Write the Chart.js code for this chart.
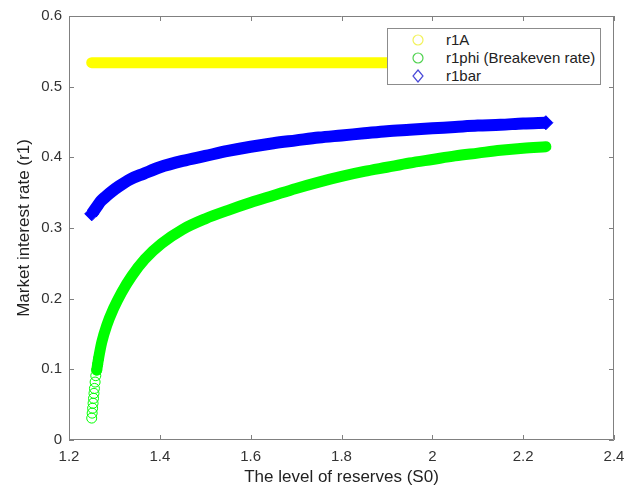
<!DOCTYPE html>
<html>
<head>
<meta charset="utf-8">
<script src="https://cdn.jsdelivr.net/npm/chart.js@4.4.0/dist/chart.umd.min.js"></script>
<style>
    html, body { margin: 0; padding: 0; background: #fff; }
    #wrap { position: relative; width: 638px; height: 495px; }
    #legend {
        position: absolute; left: 387px; top: 28px; width: 214px; height: 57px;
        box-sizing: border-box; border: 1px solid #8c8c8c; background: #fff;
        font: 15px "Liberation Sans", Arial, sans-serif; color: #222;
    }
    .row { position: absolute; left: 0; height: 18px; line-height: 18px; }
    .row svg { position: absolute; left: 23px; top: 2px; }
    .row span { position: absolute; left: 58px; white-space: nowrap; }
</style>
</head>
<body>
<div id="wrap">
    <canvas id="chart" width="638" height="495"></canvas>
    <div id="legend">
        <div class="row" style="top:2px">
            <svg width="14" height="14"><circle cx="7" cy="7" r="5" fill="none" stroke="#f2f25a" stroke-width="1.2"/></svg>
            <span>r1A</span>
        </div>
        <div class="row" style="top:20px">
            <svg width="14" height="14"><circle cx="7" cy="7" r="5" fill="none" stroke="#4fd24f" stroke-width="1.2"/></svg>
            <span>r1phi (Breakeven rate)</span>
        </div>
        <div class="row" style="top:38px">
            <svg width="14" height="14"><polygon points="7,1 12,7 7,13 2,7" fill="none" stroke="#4a4ad8" stroke-width="1.2"/></svg>
            <span>r1bar</span>
        </div>
    </div>
</div>
<script>
// === данные ===
const s0 = [1.25, 1.26, 1.27, 1.28, 1.295, 1.31, 1.335, 1.365, 1.40, 1.45, 1.50, 1.55, 1.60,
    1.65, 1.70, 1.75, 1.80, 1.85, 1.90, 1.95, 2.00, 2.05, 2.10, 2.15, 2.20, 2.25];
const r1A = [0.534, 0.534, 0.534, 0.534, 0.534, 0.534, 0.534, 0.534, 0.534, 0.534, 0.534, 0.534, 0.534,
    0.534, 0.534, 0.534, 0.534, 0.534, 0.534, 0.534, 0.534, 0.534, 0.534, 0.534, 0.534, 0.534];
const r1bar = [0.320, 0.329, 0.338, 0.344, 0.352, 0.359, 0.369, 0.377, 0.386, 0.395, 0.402, 0.409, 0.415,
    0.420, 0.424, 0.428, 0.431, 0.434, 0.437, 0.439, 0.441, 0.443, 0.445, 0.446, 0.448, 0.449];

const s0Phi = [1.250, 1.251, 1.252, 1.253, 1.254, 1.255, 1.256, 1.2575, 1.259, 1.261, 1.263, 1.265,
    1.272, 1.283, 1.298, 1.316, 1.338, 1.367, 1.404, 1.45, 1.50, 1.55, 1.60, 1.65, 1.70, 1.75,
    1.80, 1.85, 1.90, 1.95, 2.00, 2.05, 2.10, 2.15, 2.20, 2.25];
const r1phi = [0.031, 0.038, 0.045, 0.052, 0.059, 0.066, 0.073, 0.082, 0.091, 0.099, 0.107, 0.115,
    0.138, 0.162, 0.186, 0.209, 0.232, 0.256, 0.278, 0.298, 0.313, 0.325, 0.336, 0.346, 0.356, 0.365,
    0.373, 0.380, 0.386, 0.392, 0.397, 0.402, 0.406, 0.410, 0.413, 0.415];

const xTicks = [1.2, 1.4, 1.6, 1.8, 2.0, 2.2, 2.4];
const xTickLabels = ["1.2", "1.4", "1.6", "1.8", "2", "2.2", "2.4"];
const yTicks = [0, 0.1, 0.2, 0.3, 0.4, 0.5, 0.6];
const yTickLabels = ["0", "0.1", "0.2", "0.3", "0.4", "0.5", "0.6"];

const YELLOW = "#ffff00", GREEN = "#00ff00", BLUE = "#0000ff";
const FONT = "'Liberation Sans', Arial, sans-serif";
const pts = (xs, ys) => xs.map((x, i) => ({ x: x, y: ys[i] }));

// === рамка и засечки внутрь, как в MATLAB ===
const frame = {
    id: "frame",
    afterDatasetsDraw(chart) {
        const { ctx, chartArea: a, scales: { x, y } } = chart;
        ctx.save();
        ctx.strokeStyle = "#808080";
        ctx.lineWidth = 1;
        ctx.beginPath();
        ctx.rect(a.left + 0.5, a.top + 0.5, a.right - a.left - 1, a.bottom - a.top - 1);
        xTicks.forEach(v => {
            const px = Math.round(x.getPixelForValue(v)) + 0.5;
            ctx.moveTo(px, a.bottom); ctx.lineTo(px, a.bottom - 5);
            ctx.moveTo(px, a.top); ctx.lineTo(px, a.top + 5);
        });
        yTicks.forEach(v => {
            const py = Math.round(y.getPixelForValue(v)) + 0.5;
            ctx.moveTo(a.left, py); ctx.lineTo(a.left + 5, py);
            ctx.moveTo(a.right, py); ctx.lineTo(a.right - 5, py);
        });
        ctx.stroke();
        ctx.restore();
    }
};

new Chart(document.getElementById("chart"), {
    type: "scatter",
    data: {
        datasets: [
            {
                label: "r1A",
                data: pts(s0, r1A),
                showLine: true,
                borderColor: YELLOW,
                borderWidth: 11,
                borderCapStyle: "round",
                pointRadius: 0,
            },
            {
                label: "r1phi (Breakeven rate)",
                data: pts(s0Phi, r1phi),
                showLine: true,
                cubicInterpolationMode: "monotone",
                borderColor: GREEN,
                borderWidth: 11,
                borderCapStyle: "round",
                segment: {
                    borderColor: c => (c.p1DataIndex <= 9 ? "rgba(0,0,0,0)" : GREEN),
                },
                pointStyle: "circle",
                pointRadius: c => (c.dataIndex <= 11 ? 5 : 0),
                pointBorderWidth: 1,
                pointBorderColor: GREEN,
                pointBackgroundColor: "rgba(0,0,0,0)",
            },
            {
                label: "r1bar",
                data: pts(s0, r1bar),
                showLine: true,
                cubicInterpolationMode: "monotone",
                borderColor: BLUE,
                borderWidth: 12,
                borderCapStyle: "butt",
                pointStyle: "rectRot",
                pointRadius: c => (c.dataIndex === 0 || c.dataIndex === s0.length - 1 ? 7 : 0),
                pointBorderWidth: 1,
                pointBorderColor: BLUE,
                pointBackgroundColor: BLUE,
            },
        ],
    },
    options: {
        responsive: false,
        animation: false,
        events: [],
        layout: { padding: { left: 0, top: 14, right: 24, bottom: 7 } },
        plugins: {
            legend: { display: false },
            tooltip: { enabled: false },
        },
        scales: {
            x: {
                type: "linear",
                min: 1.2,
                max: 2.4,
                grid: { display: false, drawTicks: false },
                border: { display: false },
                afterBuildTicks: s => { s.ticks = xTicks.map(v => ({ value: v })); },
                afterFit: s => { s.height = 48; },
                ticks: {
                    padding: 8,
                    color: "#333",
                    font: { family: FONT, size: 15 },
                    callback: (v, i) => xTickLabels[i],
                },
                title: {
                    display: true,
                    text: "The level of reserves (S0)",
                    color: "#222",
                    font: { family: FONT, size: 17 },
                    padding: { top: 0, bottom: 0 },
                },
            },
            y: {
                type: "linear",
                min: 0,
                max: 0.6,
                grid: { display: false, drawTicks: false },
                border: { display: false },
                afterBuildTicks: s => { s.ticks = yTicks.map(v => ({ value: v })); },
                afterFit: s => { s.width = 69; },
                ticks: {
                    padding: 7,
                    color: "#333",
                    font: { family: FONT, size: 15 },
                    callback: (v, i) => yTickLabels[i],
                },
                title: {
                    display: true,
                    text: "Market interest rate (r1)",
                    color: "#222",
                    font: { family: FONT, size: 17 },
                    padding: { top: 14, bottom: 0 },
                },
            },
        },
    },
    plugins: [frame],
});
</script>
</body>
</html>
